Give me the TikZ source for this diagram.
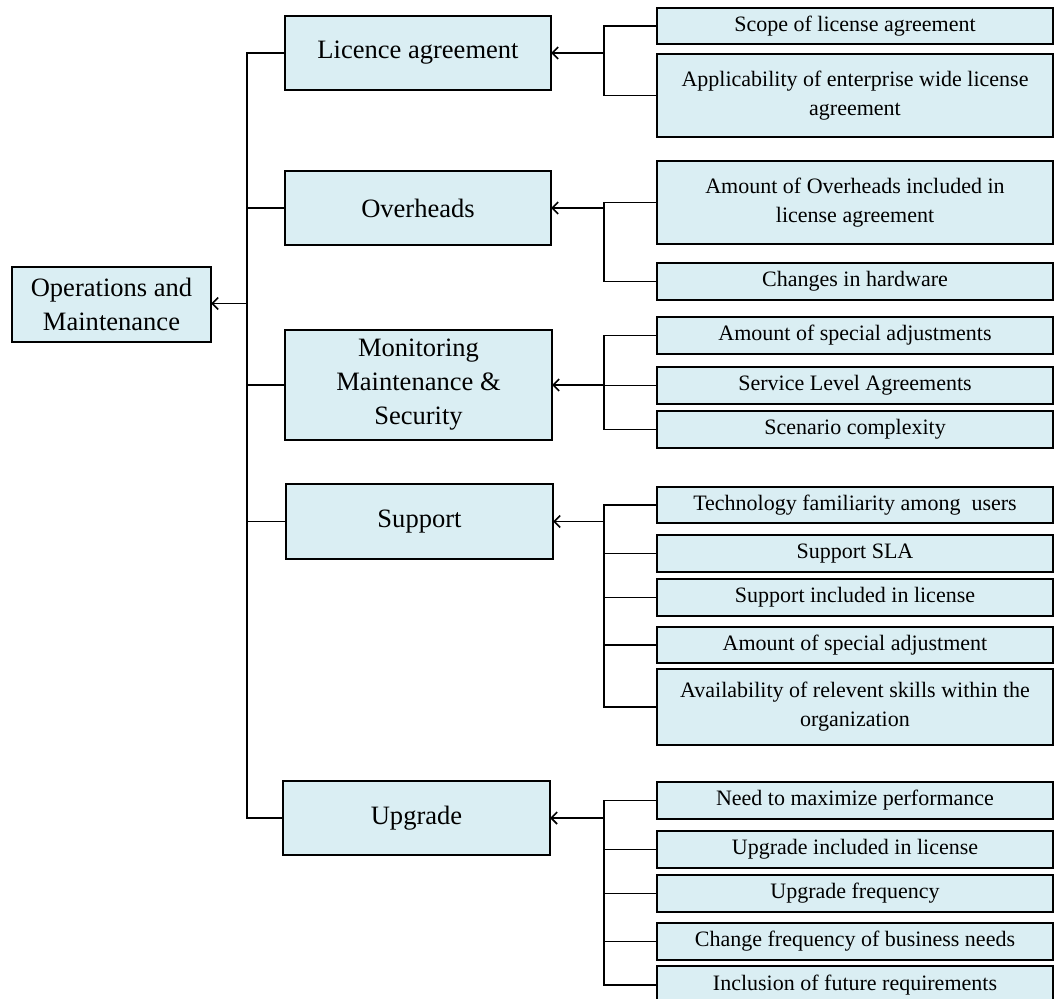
\documentclass[tikz,border=0pt]{standalone}
\usepackage{fontspec}
\setmainfont{Liberation Serif}
\usetikzlibrary{arrows.meta}
\definecolor{boxfill}{HTML}{DAEEF3}
\begin{document}
\begin{tikzpicture}[x=0.75pt,y=-0.75pt,
  box/.style={draw=black, fill=boxfill, line width=1.6pt, inner sep=0pt,
              outer sep=0pt, align=center},
  size/.style 2 args={minimum width=#1*0.75pt, minimum height=#2*0.75pt},
  headbox/.style={box, font=\fontsize{19.9}{25.5}\selectfont},
  leafbox/.style={box, minimum width=396*0.75pt,
                  font=\fontsize{16.5}{21.75}\selectfont},
  link/.style={line width=1.2pt, draw=black},
  arr/.style={link, -{Straight Barb[length=4.5pt,width=9pt]}}]
\useasboundingbox (0,0) rectangle (1054,999);

% root
\node[headbox, size={199}{75}] (root) at (111.5,304.5) {Operations and\\Maintenance};

% second level
\node[headbox, size={266}{74}] (lic) at (418,53)    {Licence agreement};
\node[headbox, size={266}{74}] (ovh) at (418,208)   {Overheads};
\node[headbox, size={267}{110}] (mon) at (418.5,385) {Monitoring\\Maintenance \&\\Security};
\node[headbox, size={267}{75}] (sup) at (419.5,521.5) {Support};
\node[headbox, size={267}{74}] (upg) at (416.5,818)  {Upgrade};

% leaves
\node[leafbox, minimum height=36*0.75pt] (l1) at (855,26)    {Scope of license agreement};
\node[leafbox, minimum height=83*0.75pt] (l2) at (855,95.5)  {Applicability of enterprise wide license\\agreement};
\node[leafbox, minimum height=83*0.75pt] (o1) at (855,202.5) {Amount of Overheads included in\\license agreement};
\node[leafbox, minimum height=37*0.75pt] (o2) at (855,281.5) {Changes in hardware};
\node[leafbox, minimum height=37*0.75pt] (m1) at (855,335.5) {Amount of special adjustments};
\node[leafbox, minimum height=37*0.75pt] (m2) at (855,385.5) {Service Level Agreements};
\node[leafbox, minimum height=37*0.75pt] (m3) at (855,429.5) {Scenario complexity};
\node[leafbox, minimum height=36*0.75pt] (s1) at (855,505)   {Technology familiarity among~ users};
\node[leafbox, minimum height=37*0.75pt] (s2) at (855,553.5) {Support SLA};
\node[leafbox, minimum height=37*0.75pt] (s3) at (855,597.5) {Support included in license};
\node[leafbox, minimum height=36*0.75pt] (s4) at (855,645)   {Amount of special adjustment};
\node[leafbox, minimum height=76*0.75pt] (s5) at (855,707)   {Availability of relevent skills within the\\organization};
\node[leafbox, minimum height=37*0.75pt] (u1) at (855,800.5) {Need to maximize performance};
\node[leafbox, minimum height=37*0.75pt] (u2) at (855,849.5) {Upgrade included in license};
\node[leafbox, minimum height=37*0.75pt] (u3) at (855,893.5) {Upgrade frequency};
\node[leafbox, minimum height=37*0.75pt] (u4) at (855,941.5) {Change frequency of business needs};
\node[leafbox, minimum height=38*0.75pt] (u5) at (855,985)   {Inclusion of future requirements};

% junction points
\coordinate (trunk) at (247,303.5);
\coordinate (jl) at (604,53);
\coordinate (jo) at (604,208);
\coordinate (jm) at (604,385);
\coordinate (js) at (604,521.5);
\coordinate (ju) at (604,818);

% root trunk
\foreach \n in {lic,ovh,mon,sup,upg} \draw[link] (\n.west) -| (trunk);
\draw[arr] (trunk) -- (root.east |- trunk);

% group buses
\foreach \n in {l1,l2} \draw[link] (\n.west) -| (jl);
\draw[arr] (jl) -- (lic.east);
\foreach \n in {o1,o2} \draw[link] (\n.west) -| (jo);
\draw[arr] (jo) -- (ovh.east);
\foreach \n in {m1,m2,m3} \draw[link] (\n.west) -| (jm);
\draw[arr] (jm) -- (mon.east);
\foreach \n in {s1,s2,s3,s4,s5} \draw[link] (\n.west) -| (js);
\draw[arr] (js) -- (sup.east);
\foreach \n in {u1,u2,u3,u4,u5} \draw[link] (\n.west) -| (ju);
\draw[arr] (ju) -- (upg.east);
\end{tikzpicture}
\end{document}
